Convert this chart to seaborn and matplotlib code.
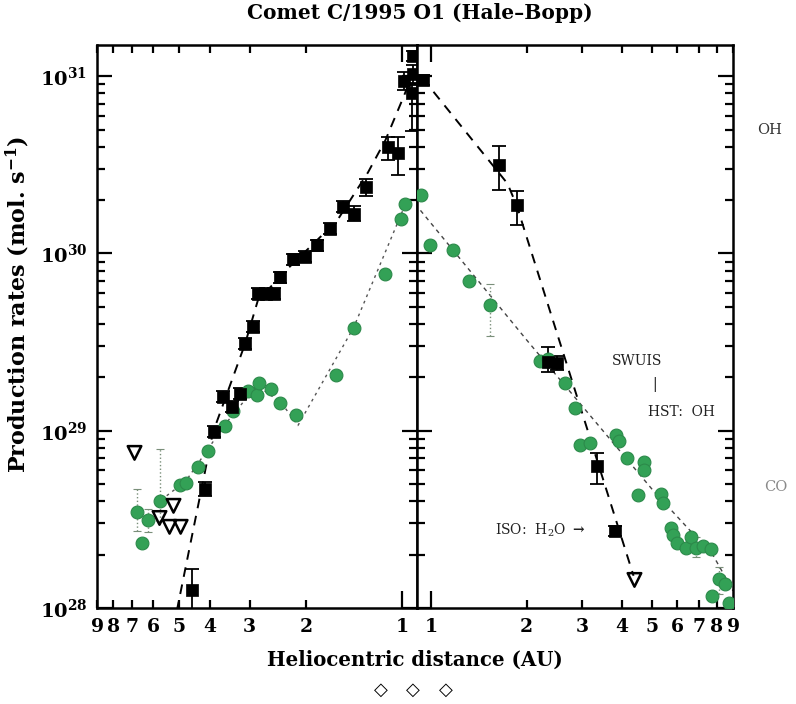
import matplotlib
matplotlib.use("Agg")
import matplotlib.pyplot as plt
import numpy as np
import seaborn as sns
from matplotlib.ticker import FixedLocator, FixedFormatter, FuncFormatter, LogLocator, NullLocator, NullFormatter

# OH production rates, pre-perihelion (black squares), errors in dex
oh_pre_r = [4.55, 4.15, 3.88, 3.64, 3.41, 3.22, 3.10, 2.93, 2.83, 2.67, 2.52, 2.41, 2.20,
            2.01, 1.85, 1.68, 1.53, 1.42, 1.30, 1.11, 1.03, 0.99, 0.93, 0.924, 0.924]
oh_pre_q = [1.26e28, 4.7e28, 9.9e28, 1.56e29, 1.37e29, 1.62e29, 3.10e29, 3.87e29, 5.94e29,
            5.94e29, 5.94e29, 7.32e29, 9.25e29, 9.6e29, 1.11e30, 1.38e30, 1.84e30, 1.68e30,
            2.36e30, 3.97e30, 3.67e30, 9.4e30, 8.0e30, 1.30e31, 1.03e31]
oh_pre_dn = [0.2, 0.04, 0.03, 0.03, 0.03, 0.03, 0.03, 0.03, 0.03, 0.03, 0.03, 0.03, 0.03,
             0.03, 0.03, 0.03, 0.03, 0.04, 0.05, 0.073, 0.124, 0.05, 0.21, 0.03, 0.05]
oh_pre_up = [0.12, 0.04, 0.03, 0.03, 0.03, 0.03, 0.03, 0.03, 0.03, 0.03, 0.03, 0.03, 0.03,
             0.03, 0.03, 0.03, 0.03, 0.04, 0.05, 0.056, 0.09, 0.05, 0.05, 0.03, 0.05]

# OH / H2O post-perihelion (incl. SWUIS, HST, ISO)
oh_post_r = [0.937, 1.64, 1.86, 2.33, 2.50, 3.35, 3.82]
oh_post_q = [9.5e30, 3.14e30, 1.87e30, 2.45e29, 2.42e29, 6.34e28, 2.72e28]
oh_post_dn = [0.03, 0.14, 0.11, 0.06, 0.04, 0.10, 0.03]
oh_post_up = [0.03, 0.11, 0.08, 0.085, 0.04, 0.07, 0.03]

# upper limits (open triangles)
lim_pre_r = [6.87, 5.74, 5.34, 4.93, 5.19]
lim_pre_q = [7.5e28, 3.22e28, 2.87e28, 2.87e28, 3.77e28]
lim_post_r = [4.39]
lim_post_q = [1.44e28]

# CO production rates (green circles)
co_pre_r = [6.77, 6.49, 6.25, 5.74, 4.97, 4.75, 4.36, 4.06, 3.59, 3.39, 3.04, 2.85, 2.81,
            2.57, 2.41, 2.15, 1.61, 1.42, 1.13, 1.01, 0.979]
co_pre_q = [3.48e28, 2.33e28, 3.14e28, 4.03e28, 4.95e28, 5.08e28, 6.27e28, 7.7e28, 1.07e29,
            1.30e29, 1.68e29, 1.60e29, 1.87e29, 1.73e29, 1.44e29, 1.22e29, 2.07e29, 3.82e29,
            7.7e29, 1.56e30, 1.89e30]
co_post_r = [0.930, 0.993, 1.17, 1.31, 1.53, 2.21, 2.33, 2.64, 2.84, 2.96, 3.18, 3.85, 3.91,
             4.17, 4.72, 4.72, 4.49, 5.31, 5.42, 5.71, 5.83, 6.00, 6.37, 6.65, 6.85, 7.21,
             7.64, 8.15, 8.52, 7.75, 8.71]
co_post_q = [2.13e30, 1.11e30, 1.05e30, 6.95e29, 5.15e29, 2.48e29, 2.55e29, 1.87e29, 1.35e29,
             8.3e28, 8.55e28, 9.5e28, 8.8e28, 7.0e28, 6.7e28, 6.0e28, 4.35e28, 4.4e28, 3.92e28,
             2.83e28, 2.58e28, 2.33e28, 2.18e28, 2.52e28, 2.18e28, 2.24e28, 2.15e28, 1.46e28,
             1.37e28, 1.17e28, 1.07e28]

# CO points with visible (dotted) error bars
co_err_pre_r = [6.77, 5.74, 6.25]
co_err_pre_q = [3.48e28, 4.03e28, 3.14e28]
co_err_pre_lo = [2.72e28, 3.1e28, 2.7e28]
co_err_pre_hi = [4.7e28, 7.9e28, 3.6e28]
co_err_post_r = [1.53, 6.85, 8.15]
co_err_post_q = [5.15e29, 2.18e28, 1.46e28]
co_err_post_lo = [3.44e29, 1.95e28, 1.2e28]
co_err_post_hi = [6.77e29, 2.5e28, 1.7e28]

# fitted trends
oh_fit_pre_r = [5.07, 3.91, 3.10, 2.83, 2.28, 1.60, 1.28, 1.13, 0.993, 0.924]
oh_fit_pre_q = [9.6e27, 9.75e28, 3.10e29, 5.42e29, 8.22e29, 1.53e30, 2.87e30, 4.35e30, 7.6e30, 1.05e31]
oh_fit_post_r = [0.937, 1.74, 1.86, 4.36]
oh_fit_post_q = [9.75e30, 2.48e30, 1.87e30, 1.52e28]
co_fit_pre_r = [5.45, 4.75, 3.59, 2.85, 2.39, 2.12, 1.42, 0.979]
co_fit_pre_q = [4.3e28, 5.2e28, 1.08e29, 1.80e29, 1.44e29, 1.07e29, 3.82e29, 1.89e30]
co_fit_post_r = [0.923, 2.01, 2.90, 5.04, 7.80, 9.0]
co_fit_post_q = [1.75e30, 3.22e29, 1.48e29, 4.58e28, 1.97e28, 1.25e28]

pre_ticks = [9, 8, 7, 6, 5, 4, 3, 2, 1]
post_ticks = [1, 2, 3, 4, 5, 6, 7, 8, 9]

sns.set_style("ticks")
plt.rcParams['font.family'] = ['DejaVu Serif', 'DejaVu Sans']
plt.rcParams['mathtext.fontset'] = 'dejavuserif'
plt.rcParams['mathtext.default'] = 'bf'
plt.rcParams['text.color'] = 'black'
plt.rcParams['axes.labelcolor'] = 'black'
plt.rcParams['xtick.color'] = 'black'
plt.rcParams['ytick.color'] = 'black'

W, H = 796, 704
GREEN = '#33a156'

fig = plt.figure(figsize=(W / 100, H / 100), dpi=100)
ax_pre = fig.add_axes([97 / W, 1 - 608 / H, 320 / W, 563 / H])
ax_post = fig.add_axes([417 / W, 1 - 608 / H, 316 / W, 563 / H])


def draw_errors(ax, r, q, dn, up):
    q = np.array(q)
    lo = q / 10 ** np.array(dn)
    hi = q * 10 ** np.array(up)
    ax.errorbar(r, q, yerr=[q - lo, hi - q], fmt='none', ecolor='black',
                elinewidth=1.3, capsize=5, capthick=1.3, zorder=3)


def draw_co_errors(ax, r, q, lo, hi):
    q = np.array(q)
    eb = ax.errorbar(r, q, yerr=[q - np.array(lo), np.array(hi) - q], fmt='none',
                     ecolor='#7a8f7a', elinewidth=1.0, capsize=3, capthick=0.8, zorder=2)
    eb[2][0].set_linestyle(':')


for ax in (ax_pre, ax_post):
    ax.set_xscale('log')
    ax.set_yscale('log')

# pre-perihelion panel
draw_co_errors(ax_pre, co_err_pre_r, co_err_pre_q, co_err_pre_lo, co_err_pre_hi)
draw_errors(ax_pre, oh_pre_r, oh_pre_q, oh_pre_dn, oh_pre_up)
sns.lineplot(x=co_fit_pre_r, y=co_fit_pre_q, ax=ax_pre, sort=False, estimator=None,
             color='#555555', linewidth=1.0, linestyle=(0, (2, 3)), zorder=1)
sns.lineplot(x=oh_fit_pre_r, y=oh_fit_pre_q, ax=ax_pre, sort=False, estimator=None,
             color='black', linewidth=1.4, linestyle=(0, (5, 4)), zorder=1)
sns.scatterplot(x=co_pre_r, y=co_pre_q, ax=ax_pre, marker='o', s=85, color=GREEN,
                edgecolor='#2c8a4a', linewidth=0.8, zorder=4)
sns.scatterplot(x=oh_pre_r, y=oh_pre_q, ax=ax_pre, marker='s', s=70, color='black',
                edgecolor='black', linewidth=0.5, zorder=5)
sns.scatterplot(x=lim_pre_r, y=lim_pre_q, ax=ax_pre, marker='v', s=95, color='white',
                edgecolor='black', linewidth=1.8, zorder=5)
ax_pre.collections[-1].set_facecolor('none')

# post-perihelion panel
draw_co_errors(ax_post, co_err_post_r, co_err_post_q, co_err_post_lo, co_err_post_hi)
draw_errors(ax_post, oh_post_r, oh_post_q, oh_post_dn, oh_post_up)
sns.lineplot(x=co_fit_post_r, y=co_fit_post_q, ax=ax_post, sort=False, estimator=None,
             color='#444444', linewidth=1.0, linestyle=(0, (3, 3)), zorder=1)
sns.lineplot(x=oh_fit_post_r, y=oh_fit_post_q, ax=ax_post, sort=False, estimator=None,
             color='black', linewidth=1.4, linestyle=(0, (5, 4)), zorder=1)
sns.scatterplot(x=co_post_r, y=co_post_q, ax=ax_post, marker='o', s=85, color=GREEN,
                edgecolor='#2c8a4a', linewidth=0.8, zorder=4)
sns.scatterplot(x=oh_post_r, y=oh_post_q, ax=ax_post, marker='s', s=70, color='black',
                edgecolor='black', linewidth=0.5, zorder=5)
sns.scatterplot(x=lim_post_r, y=lim_post_q, ax=ax_post, marker='v', s=95, color='white',
                edgecolor='black', linewidth=1.8, zorder=5)
ax_post.collections[-1].set_facecolor('none')

ax_pre.set_xlim(9, 0.9)
ax_post.set_xlim(0.9, 9)

for ax, ticks in ((ax_pre, pre_ticks), (ax_post, post_ticks)):
    ax.set_ylim(1e28, 1.5e31)
    ax.set_xlabel('')
    ax.set_ylabel('')
    for s in ax.spines.values():
        s.set_visible(True)
        s.set_linewidth(1.8)
        s.set_color('black')
    ax.xaxis.set_major_locator(FixedLocator(ticks))
    ax.xaxis.set_major_formatter(FixedFormatter([str(t) for t in ticks]))
    ax.xaxis.set_minor_locator(NullLocator())
    ax.yaxis.set_major_locator(LogLocator(base=10, numticks=10))
    ax.yaxis.set_minor_locator(LogLocator(base=10, subs=np.arange(2, 10), numticks=20))
    ax.yaxis.set_minor_formatter(NullFormatter())
    ax.tick_params(which='both', direction='in', top=True, right=True, left=True,
                   bottom=True, width=1.6, color='black')
    ax.tick_params(axis='y', which='major', length=11)
    ax.tick_params(axis='y', which='minor', length=6)
    ax.tick_params(axis='x', which='major', length=6, labelsize=13.5, pad=7)
    for t, loc in zip(ax.xaxis.get_major_ticks(), ticks):
        if loc == 1:
            t.tick1line.set_markersize(12)
            t.tick2line.set_markersize(12)
    for lab in ax.get_xticklabels():
        lab.set_fontweight('bold')

ax_pre.yaxis.set_major_formatter(
    FuncFormatter(lambda v, p: r"$10^{%d}$" % int(round(np.log10(v)))))
ax_pre.tick_params(axis='y', which='major', labelsize=14, pad=7)
ax_post.tick_params(axis='y', labelleft=False)

# titles and labels
fig.text(420 / W, 1 - 13 / H, 'Comet C/1995 O1 (Hale\u2013Bopp)', ha='center', va='center',
         fontsize=14.5, fontweight='bold')
fig.text(415 / W, 1 - 660 / H, 'Heliocentric distance (AU)', ha='center', va='center',
         fontsize=14.2, fontweight='bold')
fig.text(18 / W, 1 - 304 / H, r'Production rates (mol. s$^{-1}$)', ha='center', va='center',
         rotation=90, fontsize=16, fontweight='bold')

# annotations
fig.text(770 / W, 1 - 130 / H, 'OH', ha='center', va='center', fontsize=10.5, color='#333333')
fig.text(776 / W, 1 - 487 / H, 'CO', ha='center', va='center', fontsize=10.5, color='#8a8a8a')
fig.text(637 / W, 1 - 361 / H, 'SWUIS', ha='center', va='center', fontsize=10, color='#222222')
fig.text(655 / W, 1 - 385 / H, '|', ha='center', va='center', fontsize=10, color='#222222')
fig.text(681 / W, 1 - 412 / H, 'HST:  OH', ha='center', va='center', fontsize=10, color='#222222')
fig.text(540 / W, 1 - 530 / H, r'ISO:  H$\mathrm{_2}$O $\rightarrow$', ha='center', va='center',
         fontsize=10, color='#222222')
for x in (381, 413, 446):
    fig.text(x / W, 1 - 690 / H, '\u25c7', ha='center', va='center', fontsize=13,
             family='DejaVu Sans', color='black')

fig.savefig('out.png', dpi=100)
